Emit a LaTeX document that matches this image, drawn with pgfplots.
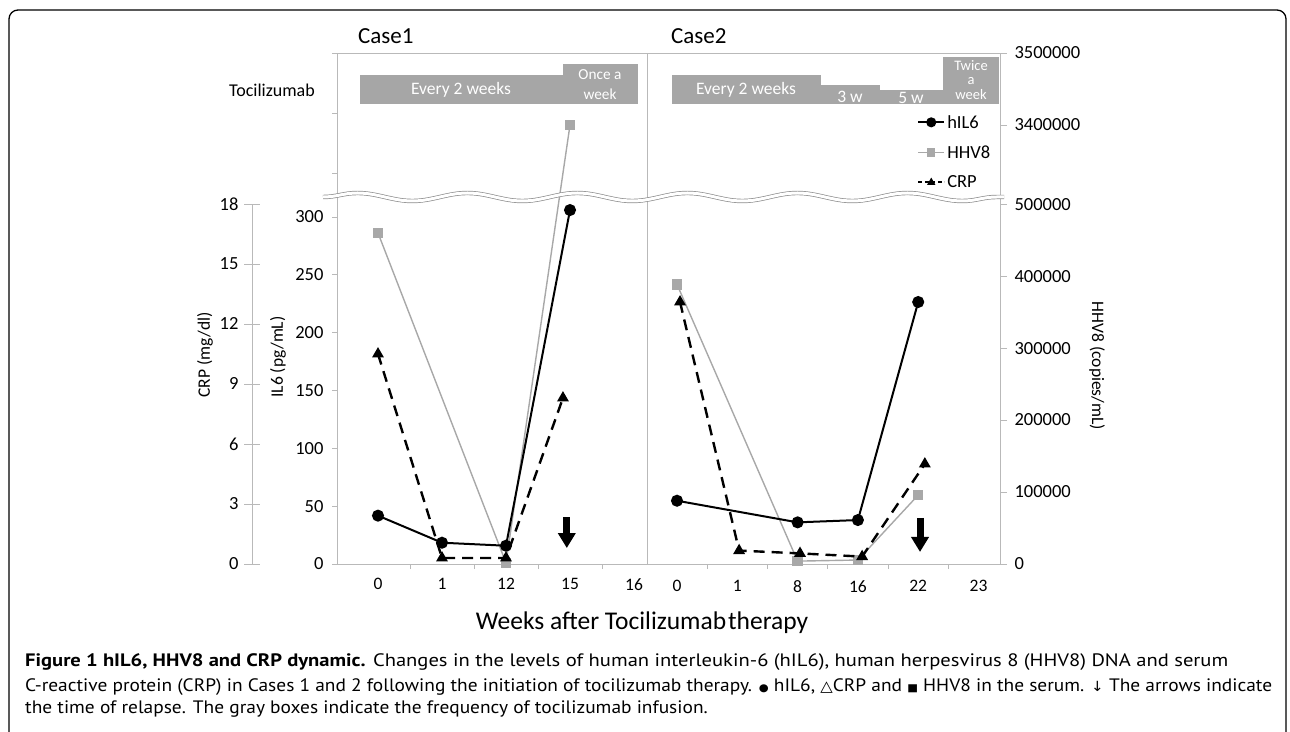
\documentclass[border=0pt]{standalone}
\usepackage{fontspec}
\setmainfont{Carlito}
\newfontfamily\capfont{PT Sans}
\newfontfamily\symfont{DejaVu Sans}
\usepackage{graphicx}
\usepackage{pgfplots}
\pgfplotsset{compat=1.18}
\usetikzlibrary{arrows.meta,decorations.pathmorphing}

\definecolor{axgray}{RGB}{185,185,185}
\definecolor{boxgray}{RGB}{166,166,166}
\definecolor{hhvgray}{RGB}{168,168,168}
\newcommand{\fs}[1]{\fontsize{#1}{#1}\selectfont}

\pgfplotsset{
  base/.style={scale only axis, clip=false,
    /pgf/number format/assume math mode=true,
    axis line style={axgray, line width=0.9pt},
    every tick/.style={axgray, line width=0.9pt},
    ticklabel style={font=\fs{18.5}, text=black},
    tick align=outside, major tick length=5pt, minor tick length=5pt},
  il6/.style={black, line width=2pt, mark=*, mark size=5pt},
  hhv/.style={hhvgray, line width=1.4pt, mark=square*, mark size=4.5pt, mark options={hhvgray}},
  crp/.style={black, line width=2.4pt, dash pattern=on 11pt off 7pt, mark=triangle*, mark size=4.5pt, mark options={solid}},
}
\tikzset{relapse/.style={black, line width=7pt, -{Triangle[length=15pt,width=17pt]}}}

% caption lines
\newcommand\capA{\textbf{Figure 1 hIL6, HHV8 and CRP dynamic.} Changes in the levels of human interleukin-6 (hIL6), human herpesvirus 8 (HHV8) DNA and serum}
\newcommand\capB{C-reactive protein (CRP) in Cases 1 and 2 following the initiation of tocilizumab therapy. {\symfont\fs{10.5}●} hIL6, {\symfont\fs{15}△}CRP and {\symfont\fs{10.5}■} HHV8 in the serum. {\symfont\fs{14}↓} The arrows indicate}
\newcommand\capC{the time of relapse. The gray boxes indicate the frequency of tocilizumab infusion.}
\newlength\capw

\begin{document}%
\settowidth\capw{\capfont\fs{18}\capB}%
\pgfmathsetmacro\capx{1247/\capw}%
\begin{tikzpicture}
\useasboundingbox (0,0) rectangle (1290pt,731pt);
\clip (0,0) rectangle (1290pt,731pt);

% ---- Case 1: frame + HHV8 (broken axis)
\begin{axis}[base, at={(337pt,167pt)}, width=310pt, height=511pt,
  xmin=-0.640625, xmax=4.203125, ymin=0, ymax=710000,
  y filter/.expression={y>2000000 ? y-2790000 : y},
  xtick={0,...,4}, xticklabels={0,1,12,15,16},
  minor xtick={0.5,1.5,2.5,3.5}, major x tick style={draw=none}, xtick pos=bottom,
  xticklabel style={font=\fs{17.5}, yshift=-6pt},
  ytick={543268,626634,710000}, yticklabels={}, ytick pos=left, scaled y ticks=false]
\addplot[hhv] coordinates {(0,460000) (2,1500) (3,3400000)};
\end{axis}

% ---- Case 2: frame + HHV8 (broken axis)
\begin{axis}[base, at={(647pt,167pt)}, width=353pt, height=511pt,
  xmin=-0.4975, xmax=5.3566, ymin=0, ymax=710000,
  y filter/.expression={y>2000000 ? y-2790000 : y},
  xtick={0,...,5}, xticklabels={0,1,8,16,22,23},
  minor xtick={-0.5,0.5,1.5,2.5,3.5,4.5}, major x tick style={draw=none}, xtick pos=bottom,
  xticklabel style={font=\fs{17.5}, yshift=-6pt},
  ytick={0,100000,200000,300000,400000,500000,610000,710000},
  yticklabels={0,100000,200000,300000,400000,500000,3400000,3500000},
  ytick pos=right, yticklabel pos=right, yticklabel style={anchor=west, xshift=4pt},
  major tick length=7pt, scaled y ticks=false]
\addplot[hhv] coordinates {(0,388500) (2,4000) (3,5500) (4,95800)};
\end{axis}

% ---- Case 1: IL6 (left axis)
\begin{axis}[base, at={(337pt,167pt)}, width=310pt, height=360pt,
  xmin=-0.640625, xmax=4.203125, ymin=0, ymax=311.24,
  axis x line=none, axis y line*=left, axis line style={-},
  ytick={0,50,...,300}, yticklabel style={xshift=-5pt}]
\addplot[il6] coordinates {(0,41.8) (1,18.4) (2,15.8) (3,306)};
\draw[relapse] (axis cs:2.95,40.6) -- (axis cs:2.95,13.8);
\end{axis}

% ---- Case 1: CRP
\begin{axis}[base, hide axis, at={(337pt,167pt)}, width=310pt, height=360pt,
  xmin=-0.640625, xmax=4.203125, ymin=0, ymax=18]
\addplot[crp] coordinates {(0,10.5) (1,0.3) (2,0.3) (2.89,8.3)};
\end{axis}

% ---- CRP scale
\begin{axis}[base, at={(252pt,167pt)}, width=1pt, height=360pt,
  xmin=0, xmax=1, ymin=0, ymax=18,
  axis x line=none, axis y line*=left, axis line style={-},
  ytick={0,3,...,18}, tick align=center, major tick length=16pt,
  yticklabel style={xshift=-2pt}]
\end{axis}

% ---- Case 2: IL6
\begin{axis}[base, hide axis, at={(647pt,167pt)}, width=353pt, height=360pt,
  xmin=-0.4975, xmax=5.3566, ymin=0, ymax=311.24]
\addplot[il6] coordinates {(0,54.7) (2,36) (3,38) (4,226.5)};
\draw[relapse] (axis cs:4.03,39.8) -- (axis cs:4.03,10.4);
\end{axis}

% ---- Case 2: CRP + legend
\begin{axis}[base, hide axis, at={(647pt,167pt)}, width=353pt, height=360pt,
  xmin=-0.4975, xmax=5.3566, ymin=0, ymax=18,
  legend style={at={(0.765,1.144)}, anchor=west, draw=none, fill=none,
    inner sep=0pt, row sep=12pt, font=\fs{18.5}, cells={anchor=west}},
  legend image code/.code={\draw[mark repeat=2,mark phase=2,#1] plot coordinates {(0pt,0pt) (13pt,0pt) (26pt,0pt)};}]
\addlegendimage{il6, mark size=4pt}
\addlegendimage{hhv, mark size=3.5pt}
\addlegendimage{crp, line width=1.8pt, dash pattern=on 4pt off 2.5pt, mark size=3pt}
\addplot[crp, forget plot] coordinates {(0.05,13.1) (1.03,0.67) (2.04,0.53) (3.07,0.37) (4.11,5.0)};
\legend{hIL6,HHV8,CRP}
\end{axis}

% ---- axis break
\draw[black!45, line width=0.7pt, double=white, double distance=3pt, decorate,
  decoration={snake, amplitude=4pt, segment length=110pt}] (323pt,534pt) -- (1004pt,534pt);

% ---- axis titles
\node[rotate=90, font=\fs{17.5}] at (205pt,376pt) {CRP (mg/dl)};
\node[rotate=90, font=\fs{17.5}] at (278pt,374pt) {IL6 (pg/mL)};
\node[rotate=-90, font=\fs{17.5}] at (1097pt,365pt) {HHV8 (copies/mL)};
\node[font=\fs{25.5}] at (642pt,108pt) {Weeks after Tocilizumab\hspace{2pt}therapy};
\node[anchor=west, inner sep=0pt, font=\fs{23}] at (358pt,695pt) {Case1};
\node[anchor=west, inner sep=0pt, font=\fs{23}] at (671pt,695pt) {Case2};
\node[font=\fs{18}] at (272pt,641pt) {Tocilizumab};

% ---- tocilizumab schedule boxes
\fill[boxgray] (360pt,656pt) rectangle (563pt,627pt);
\fill[boxgray] (563pt,667pt) rectangle (638pt,627pt);
\fill[boxgray] (672pt,656pt) rectangle (821pt,627pt);
\fill[boxgray] (821pt,646pt) rectangle (880pt,627pt);
\fill[boxgray] (880pt,641pt) rectangle (943pt,627pt);
\fill[boxgray] (943pt,674pt) rectangle (999pt,627pt);
\node[text=white, font=\fs{17.5}] at (461pt,641pt) {Every 2 weeks};
\node[text=white, font=\fontsize{15.3}{20}\selectfont, align=center] at (600pt,646pt) {Once a\\week};
\node[text=white, font=\fs{17.5}] at (746pt,641pt) {Every 2 weeks};
\node[text=white, font=\fs{17.5}] at (850pt,634pt) {3 w};
\node[text=white, font=\fs{17.5}] at (911pt,633pt) {5 w};
\node[text=white, font=\fontsize{14.5}{14.5}\selectfont, align=center] at (971pt,651pt) {Twice\\a\\week};

% ---- caption
\node[anchor=base west, inner sep=0pt] at (25pt,65pt)
  {\resizebox{1203pt}{\height}{\capfont\fs{18}\capA}};
\node[anchor=base west, inner sep=0pt] at (25pt,40pt)
  {\scalebox{\capx}[1]{\capfont\fs{18}\capB}};
\node[anchor=base west, inner sep=0pt] at (25pt,18pt)
  {\scalebox{\capx}[1]{\capfont\fs{18}\capC}};

% ---- outer frame
\draw[black, line width=1.3pt, rounded corners=9pt] (9pt,-20pt) -- (9pt,721pt) -- (1286pt,721pt) -- (1286pt,-20pt);
\end{tikzpicture}%
\end{document}
